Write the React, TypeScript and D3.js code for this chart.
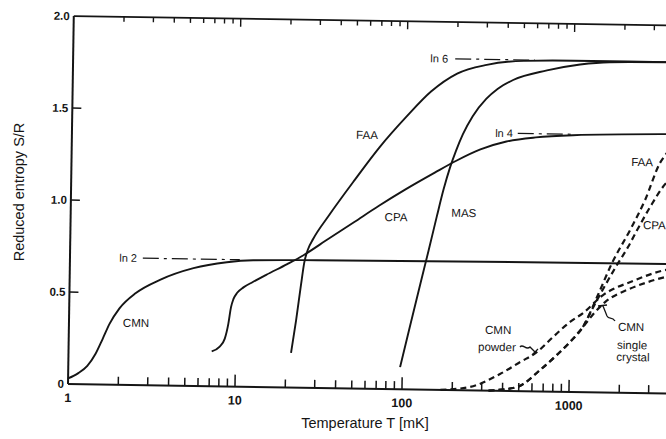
import React from 'react';
import * as d3 from 'd3';

const W = 666;
const H = 439;

// axis ticks
const xMajorTicks = [1, 10, 100, 1000];
const xTickLabels = ['1', '10', '100', '1000'];
const yTickValues = [0, 0.5, 1.0, 1.5, 2.0];
const yTickLabels = ['0', '0.5', '1.0', '1.5', '2.0'];
const yInnerTicks = [0.5, 1.0, 1.5];

// solid curves (T in mK, S/R)
const cmnT = [1.0, 1.15, 1.3, 1.45, 1.6, 1.75, 2.0, 2.5, 3.5, 5.5, 8.7, 12.5, 30, 300, 4400];
const cmnS = [0.03, 0.06, 0.1, 0.165, 0.25, 0.33, 0.415, 0.5, 0.575, 0.64, 0.675, 0.688, 0.694, 0.7, 0.703];

const cpaT = [7.2, 8.0, 8.6, 9.0, 9.3, 9.6, 10.1, 11, 12.5, 15, 20, 25, 35, 50, 70, 100, 150, 200, 280, 400, 600, 1000, 4400];
const cpaS = [0.19, 0.215, 0.26, 0.34, 0.43, 0.475, 0.51, 0.54, 0.57, 0.61, 0.67, 0.72, 0.81, 0.905, 0.995, 1.085, 1.18, 1.245, 1.31, 1.355, 1.38, 1.395, 1.41];

const faaT = [21.5, 22.9, 24.3, 25.3, 26.5, 28.5, 35, 50, 70, 100, 140, 200, 300, 500, 1000, 4400];
const faaS = [0.188, 0.367, 0.558, 0.68, 0.75, 0.81, 0.935, 1.135, 1.315, 1.48, 1.62, 1.72, 1.77, 1.795, 1.8, 1.8];

const masT = [97, 110, 126, 140, 156, 170, 185, 200, 219, 250, 300, 350, 433, 689, 1087, 1630, 4400];
const masS = [0.12, 0.34, 0.575, 0.755, 0.945, 1.09, 1.21, 1.3, 1.39, 1.49, 1.585, 1.64, 1.69, 1.745, 1.78, 1.795, 1.8];

// dashed curves
const powderT = [170, 255, 385, 507, 639, 794, 1000, 1197, 1567, 2366, 3718, 4400];
const powderS = [0.0, 0.018, 0.091, 0.158, 0.214, 0.297, 0.38, 0.43, 0.529, 0.608, 0.671, 0.68];

const crystalT = [330, 489, 668, 841, 1004, 1197, 1410, 1614, 2178, 2790, 3720, 4400];
const crystalS = [0.0, 0.022, 0.116, 0.2, 0.271, 0.354, 0.436, 0.491, 0.559, 0.598, 0.633, 0.645];

const faaDashT = [330, 489, 668, 841, 1004, 1197, 1443, 1762, 2244, 2740, 3340, 3620, 4400];
const faaDashS = [0.0, 0.022, 0.116, 0.2, 0.271, 0.354, 0.518, 0.704, 0.885, 1.049, 1.252, 1.3, 1.4];

const cpaDashT = [1197, 1443, 1840, 2188, 2472, 2940, 3650, 4400];
const cpaDashS = [0.354, 0.5, 0.677, 0.792, 0.885, 1.011, 1.143, 1.2];

// asymptote markers
const lnNames = ['ln 2', 'ln 4', 'ln 6'];
const lnValues = [0.69, 1.4, 1.8];
const lnLabelT = [2.52, 437, 176];
const lnLineStartT = [2.73, 467, 194];
const lnLineEndT = [10.4, 1030, 583];

// curve labels [text, T, S]
const labelTexts = ['CMN', 'FAA', 'CPA', 'MAS', 'FAA', 'CMN', 'powder', 'CMN', 'single', 'crystal'];
const labelT = [2.52, 58.5, 88.8, 226, 2608, 372, 367, 2322, 2366, 2400];
const labelS = [0.338, 1.379, 0.935, 0.963, 1.255, 0.33, 0.2375, 0.358, 0.26, 0.195];
const cpaDashLabel = 'CPA';
const cpaDashLabelT = 2680;
const cpaDashLabelS = 0.913;

const INK = '#151515';
const FONT = '"Liberation Sans", Arial, Helvetica, sans-serif';

export default function App() {
  const x = d3.scaleLog().domain([1, Math.pow(10, 3.64)]).range([68, 68 + 167 * 3.64]);
  const y = d3.scaleLinear().domain([0, 2]).range([384, 16]);
  const [x0, x1] = x.range();
  const yb = y(0);
  const yt = y(2);

  const line = d3
    .line<[number, number]>()
    .x((d) => x(d[0]))
    .y((d) => y(d[1]))
    .curve(d3.curveMonotoneX);

  const mk = (ts: number[], ss: number[]) => line(ts.map((t, i) => [t, ss[i]] as [number, number])) || '';

  const solid = [mk(cmnT, cmnS), mk(cpaT, cpaS), mk(faaT, faaS), mk(masT, masS)];
  const dashed = [mk(powderT, powderS), mk(crystalT, crystalS), mk(faaDashT, faaDashS), mk(cpaDashT, cpaDashS)];

  const allTicks = x.ticks().filter((t) => t >= 1 && t <= x.domain()[1]);
  const isMajor = (t: number) => xMajorTicks.some((m) => Math.abs(m - t) < 1e-9);

  return (
    <svg
      width={W}
      height={H}
      viewBox={`0 0 ${W} ${H}`}
      style={{ position: 'absolute', left: 0, top: 0, background: '#fff' }}
      fontFamily={FONT}
    >
      <rect x={0} y={0} width={W} height={H} fill="#fff" />
      <g transform={`rotate(0.9, ${x0}, ${yb})`}>
        {/* frame */}
        <line x1={x0} y1={yb} x2={x1} y2={yb} stroke={INK} strokeWidth={2} />
        <line x1={x0} y1={yt} x2={x1} y2={yt} stroke={INK} strokeWidth={1.8} />
        <line x1={x0} y1={yb} x2={x0} y2={yt} stroke={INK} strokeWidth={2} />
        <line x1={x1} y1={yb} x2={x1} y2={yt} stroke={INK} strokeWidth={2} />

        {/* x ticks bottom and top */}
        {allTicks.map((t, i) => {
          const major = isMajor(t);
          if (t === 1) return null;
          return (
            <g key={`xt${i}`}>
              <line x1={x(t)} x2={x(t)} y1={yb} y2={yb - (major ? 12 : 8)} stroke={INK} strokeWidth={1.5} />
              <line x1={x(t)} x2={x(t)} y1={yt} y2={yt + (major ? 8 : 5)} stroke={INK} strokeWidth={1.4} />
            </g>
          );
        })}
        {xMajorTicks.map((t, i) => (
          <text key={`xl${i}`} x={x(t)} y={yb + 18} textAnchor="middle" fontSize={12.5} fontWeight="bold" fill={INK}>
            {xTickLabels[i]}
          </text>
        ))}

        {/* y ticks */}
        {yInnerTicks.map((v, i) => (
          <g key={`yt${i}`}>
            <line x1={x0} x2={x0 + 9} y1={y(v)} y2={y(v)} stroke={INK} strokeWidth={1.5} />
            <line x1={x1} x2={x1 - 11} y1={y(v)} y2={y(v)} stroke={INK} strokeWidth={1.5} />
          </g>
        ))}
        {yTickValues.map((v, i) => (
          <text key={`yl${i}`} x={x0 - 4} y={y(v)} dy="0.35em" textAnchor="end" fontSize={11.5} fontWeight="bold" fill={INK}>
            {yTickLabels[i]}
          </text>
        ))}

        {/* ln asymptotes */}
        {lnNames.map((n, i) => (
          <g key={`ln${i}`}>
            <text x={x(lnLabelT[i])} y={y(lnValues[i])} dy="0.35em" textAnchor="end" fontSize={11} fill={INK}>
              {n}
            </text>
            <line
              x1={x(lnLineStartT[i])}
              x2={x(lnLineEndT[i])}
              y1={y(lnValues[i])}
              y2={y(lnValues[i])}
              stroke={INK}
              strokeWidth={1.2}
              strokeDasharray="16 5 3 5"
            />
          </g>
        ))}

        {/* curves */}
        {solid.map((d, i) => (
          <path key={`s${i}`} d={d} fill="none" stroke={INK} strokeWidth={1.9} strokeLinejoin="round" />
        ))}
        {dashed.map((d, i) => (
          <path key={`d${i}`} d={d} fill="none" stroke={INK} strokeWidth={2.2} strokeDasharray="6 4" />
        ))}

        {/* labels */}
        {labelTexts.map((t, i) => (
          <text key={`lb${i}`} x={x(labelT[i])} y={y(labelS[i])} dy="0.35em" textAnchor="middle" fontSize={11.5} fill={INK}>
            {t}
          </text>
        ))}
        <text x={x(cpaDashLabelT)} y={y(cpaDashLabelS)} dy="0.35em" textAnchor="start" fontSize={11.5} fill={INK}>
          {cpaDashLabel}
        </text>
      </g>

      {/* leaders */}
      <path d="M520,347 C523,343 526,351 530,347 L535,352 M532,355 L538,349" fill="none" stroke={INK} strokeWidth={1.3} />
      <path d="M598,306 L607,305 M603,306 L607,316 C609,320 612,316 615,321" fill="none" stroke={INK} strokeWidth={1.3} />

      {/* axis titles */}
      <text x={365} y={428} textAnchor="middle" fontSize={14.5} fill={INK}>
        Temperature T [mK]
      </text>
      <text transform="translate(24,192) rotate(-90)" textAnchor="middle" fontSize={14.5} fill={INK}>
        Reduced entropy S/R
      </text>
    </svg>
  );
}
